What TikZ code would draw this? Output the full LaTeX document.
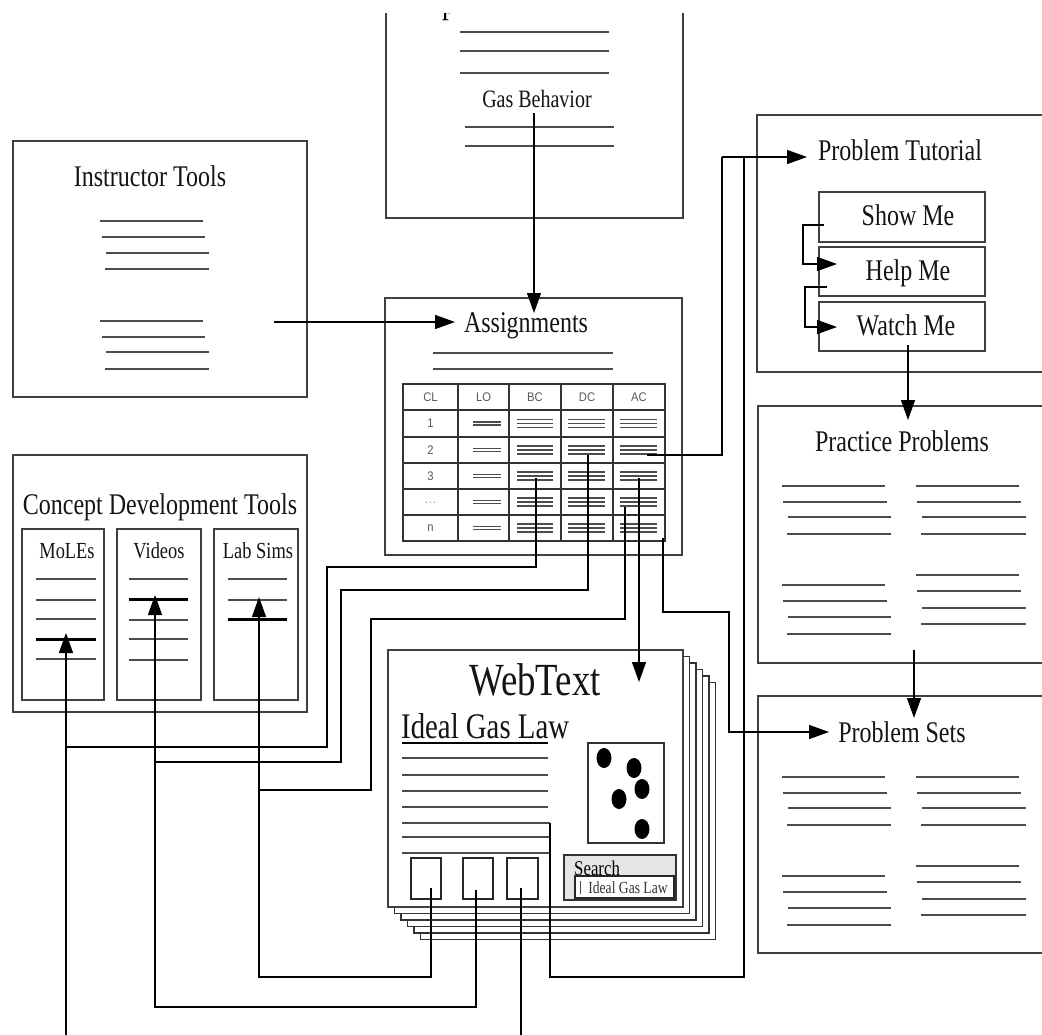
\documentclass[tikz,border=0pt]{standalone}
\usepackage{fontspec}
\setmainfont[FakeStretch=0.8]{Liberation Serif}
\newfontfamily\hdrfont[FakeStretch=0.9]{Liberation Sans}
\usetikzlibrary{arrows.meta}
\tikzset{
  box/.style={draw=black!75, line width=1.8pt, inner sep=0pt, outer sep=0pt, anchor=north west, fill=white},
  conn/.style={draw=black, line width=1.4pt},
  arr/.style={conn, -{Triangle[length=20pt,width=14pt]}},
  tline/.style={draw=black!70, line width=1.8pt},
  thline/.style={draw=black, line width=3pt},
  cline/.style={draw=black!70, line width=1.3pt},
  ttl/.style={font=\fontsize{30}{32}\selectfont, inner sep=0pt, anchor=base, text=black!92},
  sub/.style={font=\fontsize{23}{25}\selectfont, inner sep=0pt, anchor=base, text=black!92},
  hdr/.style={font=\hdrfont\fontsize{12.5}{13}\selectfont, inner sep=0pt, text=black!65},
}
\begin{document}
\begin{tikzpicture}[x=1pt,y=-1pt]
\useasboundingbox (0,0) rectangle (1042,1034);
\fill[white] (0,0) rectangle (1042,1034);
\begin{scope}
\clip (0,13) rectangle (1042,1034);

% ---------- Gas Behavior box (top, cropped) ----------
\node[box, minimum width=297pt, minimum height=228pt] (gasbox) at (386,-10) {};
\node[font=\fontsize{34}{36}\selectfont, inner sep=0pt, anchor=base west, text=black] (ptitle) at (442,13) {p};
\foreach \y in {32,51,73} \draw[tline] (460,\y) -- (609,\y);
\node[font=\fontsize{25}{27}\selectfont, inner sep=0pt, anchor=base, text=black!92] (gas) at (537,107) {Gas Behavior};
\foreach \y in {127,146} \draw[tline] (465,\y) -- (614,\y);

% ---------- Instructor Tools ----------
\node[box, minimum width=294pt, minimum height=256pt] (instr) at (13,141) {};
\node[ttl] (instrT) at (150,186) {Instructor Tools};
\foreach \y/\a/\b in {221/100/203,237/102/205,253/106/209,269/105/209,321/100/203,337/102/205,352/106/209,369/105/209}
  \draw[tline] (\a,\y) -- (\b,\y);

% ---------- Concept Development Tools ----------
\node[box, minimum width=294pt, minimum height=257pt] (concept) at (13,455) {};
\node[ttl] (conceptT) at (160,514) {Concept Development Tools};
\node[box, minimum width=82pt, minimum height=171pt] (moles) at (22,529) {};
\node[box, minimum width=84pt, minimum height=171pt] (videos) at (117,529) {};
\node[box, minimum width=84pt, minimum height=171pt] (labsims) at (214,529) {};
\node[sub] (molesT) at (67,558) {MoLEs};
\node[sub] (videosT) at (159,558) {Videos};
\node[sub] (labsimsT) at (258,558) {Lab Sims};
\foreach \y in {579,600,619,659} \draw[tline] (36,\y) -- (96,\y);
\draw[thline] (36,639) -- (96,639);
\foreach \y in {579,620,639,660} \draw[tline] (129,\y) -- (188,\y);
\draw[thline] (129,599) -- (188,599);
\foreach \y in {579,600} \draw[tline] (228,\y) -- (287,\y);
\draw[thline] (228,619) -- (287,619);

% ---------- Assignments ----------
\node[box, minimum width=297pt, minimum height=257pt] (assign) at (385,298) {};
\node[ttl] (assignT) at (526,332) {Assignments};
\foreach \y in {353,369} \draw[tline] (433,\y) -- (613,\y);
\node[box, draw=black!80, line width=1.5pt, minimum width=262pt, minimum height=157pt] (table) at (403,384) {};
\foreach \x in {458,509,561,613} \draw[draw=black!80, line width=1.5pt] (\x,384) -- (\x,541);
\foreach \y in {410,437,463,489,515} \draw[draw=black!80, line width=1.5pt] (403,\y) -- (665,\y);
\foreach \x/\t in {430.5/CL,483.5/LO,535/BC,587/DC,639/AC}
  \node[hdr] at (\x,397) {\t};
\node[hdr] (r1) at (430.5,423.5) {1};
\node[hdr] (r2) at (430.5,450) {2};
\node[hdr] (r3) at (430.5,476) {3};
\node[hdr, text=black!45] (r4) at (430.5,503) {.\kern1pt.\kern1pt.};
\node[hdr] (r5) at (430.5,528) {n};
\foreach \yc in {423.5,450,476,502,528}{
  \draw[cline] (473,\yc-1.5) -- (501,\yc-1.5);
  \draw[cline] (473,\yc+1.5) -- (501,\yc+1.5);
  \foreach \a/\b in {517/553,568/605,620/657}{
    \draw[cline] (\a,\yc-4) -- (\b,\yc-4);
    \draw[cline] (\a,\yc) -- (\b,\yc);
    \draw[cline] (\a,\yc+4) -- (\b,\yc+4);
  }
}

% ---------- Problem Tutorial ----------
\node[box, minimum width=300pt, minimum height=257pt] (tutor) at (757,115) {};
\node[ttl] (tutorT) at (900,160) {Problem Tutorial};
\node[box, minimum width=166pt, minimum height=50pt] (showme) at (819,192) {};
\node[box, minimum width=166pt, minimum height=49pt] (helpme) at (819,247) {};
\node[box, minimum width=166pt, minimum height=49pt] (watchme) at (819,302) {};
\node[ttl] (showmeT) at (908,225) {Show Me};
\node[ttl] (helpmeT) at (908,280) {Help Me};
\node[ttl] (watchmeT) at (906,335) {Watch Me};

% ---------- Practice Problems ----------
\node[box, minimum width=300pt, minimum height=257pt] (practice) at (758,406) {};
\node[ttl] (practiceT) at (902,451) {Practice Problems};
\foreach \y/\a/\b in {486/782/885,502/783/887,517/788/891,534/787/891,585/782/885,601/783/887,617/788/891,634/787/891,
  486/916/1019,502/917/1021,517/922/1026,534/921/1026,575/916/1019,591/917/1021,608/922/1026,624/921/1026}
  \draw[tline] (\a,\y) -- (\b,\y);

% ---------- Problem Sets ----------
\node[box, minimum width=300pt, minimum height=257pt] (psets) at (758,696) {};
\node[ttl] (psetsT) at (902,742) {Problem Sets};
\foreach \y/\a/\b in {777/782/885,793/783/887,808/788/891,825/787/891,876/782/885,892/783/887,908/788/891,925/787/891,
  777/916/1019,793/917/1021,808/922/1026,825/921/1026,866/916/1019,882/917/1021,899/922/1026,915/921/1026}
  \draw[tline] (\a,\y) -- (\b,\y);

% ---------- WebText stack ----------
\foreach \k in {5,4,3,2,1}
  \node[box, draw=black!80, line width=1.4pt, minimum width=295pt, minimum height=257pt] (page\k) at (388+6.5*\k,650+6.5*\k) {};
\node[box, minimum width=295pt, minimum height=257pt] (webtext) at (388,650) {};
\node[font=\fontsize{46}{48}\selectfont, inner sep=0pt, anchor=base, text=black!92] (webT) at (535,695) {WebText};
\node[font=\fontsize{36}{38}\selectfont, inner sep=0pt, anchor=base west, text=black!92] (idealT) at (401,738) {Ideal Gas Law};
\draw[draw=black, line width=2.4pt] (402,743) -- (548,743);
\foreach \y in {758,775,791,807} \draw[tline] (402,\y) -- (548,\y);
\foreach \y in {823,837,853} \draw[tline] (402,\y) -- (550,\y);
\node[box, draw=black!80, line width=1.6pt, minimum width=76pt, minimum height=100pt] (pic) at (588,743) {};
\foreach \x/\y in {604/758,634/768,642/789,619/799,642/829}
  \fill[black] (\x,\y) ellipse [x radius=7.5pt, y radius=10pt];
\node[box, draw=black!80, line width=1.6pt, fill=black!10, minimum width=112pt, minimum height=45pt] (search) at (564,855) {};
\node[font=\fontsize{21}{22}\selectfont, inner sep=0pt, anchor=base west, text=black] (searchT) at (574,875) {Search};
\node[box, draw=black!85, line width=1.6pt, minimum width=99pt, minimum height=22pt] (searchin) at (575,876) {};
\draw[black!70, line width=1pt] (580,881) -- (580,894);
\node[font=\fontsize{17}{18}\selectfont, inner sep=0pt, anchor=base, text=black!80] (searchQ) at (628,893) {Ideal Gas Law};
\node[box, draw=black!85, line width=1.6pt, minimum width=30pt, minimum height=41pt] (sb1) at (411,858) {};
\node[box, draw=black!85, line width=1.6pt, minimum width=30pt, minimum height=41pt] (sb2) at (463,858) {};
\node[box, draw=black!85, line width=1.6pt, minimum width=31pt, minimum height=41pt] (sb3) at (507,858) {};

% ---------- connector end points ----------
\coordinate (gasSrc) at (534,113);
\coordinate (asgIn) at (534,313);
\coordinate (instrSrc) at (274,322);
\coordinate (asgLeft) at (455,322);
\coordinate (cellAC2) at (647,455);
\coordinate (tutIn) at (807,157);
\coordinate (wtLine) at (550,823);
\coordinate (tabCorner) at (663,538);
\coordinate (psIn) at (829,732);
\coordinate (cellAC3) at (639,478);
\coordinate (wtIn) at (639,682);
\coordinate (cellBC3) at (536,478);
\coordinate (cellDC2) at (588,455);
\coordinate (cellACd) at (625,507);
\coordinate (molesTip) at (66,633);
\coordinate (videosTip) at (155,595);
\coordinate (labTip) at (259,597);
\coordinate (bot1) at (66,1040);
\coordinate (bot2) at (521,1040);
\coordinate (sb1s) at (431,888);
\coordinate (sb2s) at (476,890);
\coordinate (sb3s) at (521,888);
\coordinate (showS) at (824,225);
\coordinate (helpIn) at (837,264);
\coordinate (helpS) at (827,287);
\coordinate (watchIn) at (837,327);
\coordinate (watchS) at (908,345);
\coordinate (pracIn) at (908,420);
\coordinate (pracS) at (914,650);
\coordinate (setsIn) at (914,718);

% ---------- connectors ----------
\draw[arr] (gasSrc) -- (asgIn);
\draw[arr] (instrSrc) -- (asgLeft);
\draw[conn] (cellAC2) -| (722,157);
\draw[arr] (722,157) -- (tutIn);
\draw[conn] (wtLine) |- (744,977) -- (744,157);
\draw[arr] (tabCorner) |- (729,612) |- (psIn);
\draw[arr] (cellAC3) -- (wtIn);
\draw[arr] (bot1) -- (molesTip);
\draw[conn] (cellBC3) |- (327,567) |- (66,747);
\draw[arr] (sb2s) |- (155,1007) -- (videosTip);
\draw[conn] (cellDC2) |- (341,590) |- (155,762);
\draw[arr] (sb1s) |- (259,977) -- (labTip);
\draw[conn] (cellACd) |- (371,619) |- (259,790);
\draw[conn] (sb3s) -- (bot2);
\draw[arr] (showS) -| (803,264) -- (helpIn);
\draw[arr] (helpS) -| (805,327) -- (watchIn);
\draw[arr] (watchS) -- (pracIn);
\draw[arr] (pracS) -- (setsIn);
\end{scope}
\end{tikzpicture}
\end{document}
